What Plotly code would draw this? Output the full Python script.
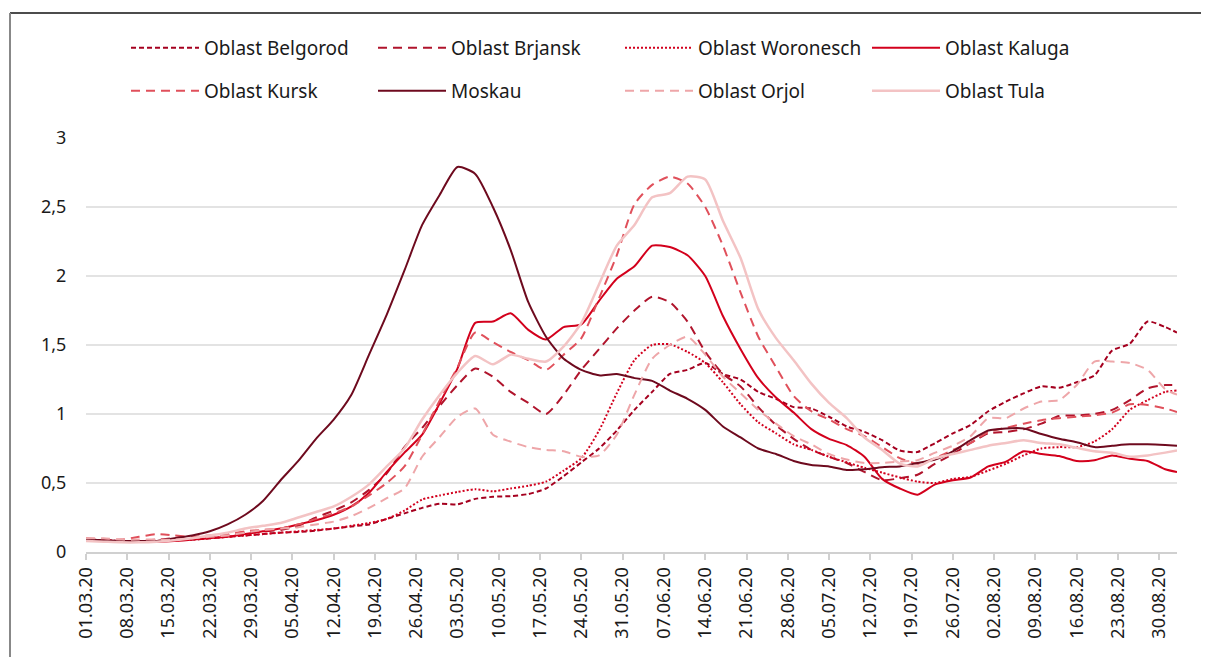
import pandas as pd
import plotly.graph_objects as go

# Day offsets from 01.03.2020 at which values were read
day_offsets = [0, 3, 6, 9, 12, 15, 18, 21, 24, 27, 30, 33, 36, 39, 42, 45, 48, 51, 54, 57,
               60, 63, 66, 69, 72, 75, 78, 81, 84, 87, 90, 93, 96, 99, 102, 105, 108, 111,
               114, 117, 120, 123, 126, 129, 132, 135, 138, 141, 144, 147, 150, 153, 156,
               159, 162, 165, 168, 171, 174, 177, 180, 183, 185]

belgorod = [0.09, 0.085, 0.08, 0.08, 0.08, 0.085, 0.09, 0.10, 0.11, 0.12, 0.13, 0.14, 0.145, 0.155,
            0.17, 0.185, 0.20, 0.24, 0.28, 0.32, 0.35, 0.345, 0.385, 0.40, 0.405, 0.42, 0.46,
            0.55, 0.65, 0.75, 0.88, 1.03, 1.16, 1.29, 1.32, 1.37, 1.29, 1.25, 1.16, 1.11, 1.05,
            1.04, 0.98, 0.91, 0.87, 0.81, 0.735, 0.725, 0.79, 0.86, 0.92, 1.02, 1.09, 1.15,
            1.20, 1.19, 1.23, 1.28, 1.46, 1.51, 1.67, 1.63, 1.59]
brjansk = [0.09, 0.09, 0.085, 0.08, 0.09, 0.10, 0.11, 0.11, 0.12, 0.14, 0.15, 0.16, 0.19, 0.25,
           0.30, 0.36, 0.45, 0.57, 0.76, 0.90, 1.06, 1.21, 1.33, 1.27, 1.16, 1.08, 1.00, 1.14,
           1.32, 1.47, 1.62, 1.75, 1.85, 1.81, 1.67, 1.45, 1.29, 1.20, 1.05, 0.92, 0.82, 0.74,
           0.69, 0.645, 0.58, 0.52, 0.535, 0.56, 0.64, 0.71, 0.79, 0.86, 0.87, 0.89, 0.93,
           0.985, 0.99, 1.00, 1.03, 1.10, 1.186, 1.21, 1.21]
woronesch = [0.09, 0.085, 0.08, 0.08, 0.08, 0.085, 0.09, 0.10, 0.11, 0.12, 0.13, 0.14, 0.15, 0.16,
             0.17, 0.19, 0.21, 0.24, 0.30, 0.38, 0.41, 0.435, 0.455, 0.44, 0.46, 0.48, 0.51,
             0.59, 0.68, 0.88, 1.15, 1.39, 1.50, 1.505, 1.45, 1.37, 1.23, 1.07, 0.94, 0.86,
             0.78, 0.74, 0.69, 0.65, 0.61, 0.575, 0.54, 0.51, 0.50, 0.53, 0.545, 0.59, 0.64,
             0.70, 0.75, 0.76, 0.76, 0.80, 0.89, 1.03, 1.10, 1.16, 1.17]
kaluga = [0.09, 0.08, 0.08, 0.075, 0.075, 0.08, 0.09, 0.10, 0.11, 0.13, 0.15, 0.17, 0.20, 0.23,
          0.27, 0.33, 0.43, 0.58, 0.72, 0.85, 1.08, 1.33, 1.66, 1.67, 1.73, 1.61, 1.54, 1.63,
          1.65, 1.82, 1.98, 2.07, 2.22, 2.21, 2.15, 2.00, 1.71, 1.47, 1.26, 1.12, 1.01, 0.89,
          0.82, 0.775, 0.69, 0.53, 0.46, 0.415, 0.49, 0.52, 0.54, 0.62, 0.655, 0.73, 0.71,
          0.695, 0.66, 0.665, 0.70, 0.675, 0.66, 0.60, 0.58]
kursk = [0.10, 0.09, 0.09, 0.11, 0.13, 0.12, 0.11, 0.12, 0.13, 0.15, 0.16, 0.17, 0.20, 0.24,
         0.28, 0.33, 0.41, 0.50, 0.62, 0.85, 1.10, 1.34, 1.59, 1.52, 1.45, 1.39, 1.32, 1.43,
         1.55, 1.84, 2.15, 2.52, 2.66, 2.72, 2.67, 2.50, 2.22, 1.88, 1.56, 1.34, 1.13, 1.02,
         0.96, 0.89, 0.84, 0.76, 0.68, 0.64, 0.68, 0.74, 0.79, 0.87, 0.90, 0.93, 0.955,
         0.97, 0.98, 0.99, 1.01, 1.07, 1.065, 1.04, 1.015]
moskau = [0.09, 0.085, 0.08, 0.08, 0.08, 0.10, 0.12, 0.15, 0.20, 0.27, 0.37, 0.52, 0.66, 0.82,
          0.96, 1.14, 1.43, 1.72, 2.04, 2.37, 2.59, 2.79, 2.74, 2.50, 2.19, 1.81, 1.56, 1.40,
          1.32, 1.28, 1.29, 1.26, 1.24, 1.17, 1.11, 1.03, 0.91, 0.83, 0.75, 0.71, 0.66, 0.63,
          0.62, 0.595, 0.60, 0.615, 0.62, 0.645, 0.67, 0.73, 0.81, 0.88, 0.895, 0.895, 0.855,
          0.82, 0.795, 0.76, 0.77, 0.78, 0.78, 0.775, 0.77]
orjol = [0.10, 0.10, 0.09, 0.09, 0.09, 0.09, 0.10, 0.11, 0.12, 0.14, 0.16, 0.17, 0.18, 0.20,
         0.22, 0.26, 0.32, 0.39, 0.46, 0.69, 0.835, 0.98, 1.04, 0.85, 0.80, 0.76, 0.74, 0.73,
         0.69, 0.70, 0.85, 1.14, 1.40, 1.50, 1.56, 1.43, 1.27, 1.15, 1.03, 0.93, 0.84, 0.78,
         0.71, 0.67, 0.645, 0.645, 0.655, 0.665, 0.72, 0.77, 0.84, 0.97, 0.97, 1.04, 1.09,
         1.10, 1.21, 1.38, 1.38, 1.37, 1.32, 1.18, 1.14]
tula = [0.08, 0.075, 0.07, 0.07, 0.075, 0.085, 0.10, 0.12, 0.14, 0.17, 0.19, 0.21, 0.25, 0.29,
        0.33, 0.40, 0.49, 0.62, 0.75, 0.96, 1.14, 1.30, 1.42, 1.36, 1.43, 1.40, 1.38, 1.49,
        1.66, 1.94, 2.22, 2.37, 2.57, 2.60, 2.72, 2.70, 2.40, 2.13, 1.76, 1.55, 1.39, 1.22,
        1.08, 0.97, 0.83, 0.74, 0.64, 0.62, 0.68, 0.71, 0.74, 0.77, 0.79, 0.81, 0.79, 0.78,
        0.755, 0.73, 0.72, 0.69, 0.70, 0.72, 0.735]

series_names = ["Oblast Belgorod", "Oblast Brjansk", "Oblast Woronesch", "Oblast Kaluga",
                "Oblast Kursk", "Moskau", "Oblast Orjol", "Oblast Tula"]
tick_dates = pd.date_range("2020-03-01", "2020-08-30", freq="7D")

dates = pd.Timestamp("2020-03-01") + pd.to_timedelta(day_offsets, unit="D")
values = [belgorod, brjansk, woronesch, kaluga, kursk, moskau, orjol, tula]
styles = [
    dict(color="#A5001F", dash="5px,3px", width=2),
    dict(color="#B0142C", dash="9px,6px", width=2),
    dict(color="#D2001E", dash="2px,2px", width=2),
    dict(color="#D3001C", dash="solid", width=2),
    dict(color="#E0505B", dash="9px,6px", width=2),
    dict(color="#6E0A1E", dash="solid", width=2),
    dict(color="#EEA6A9", dash="9px,6px", width=2),
    dict(color="#F3C3C4", dash="solid", width=2.5),
]

fig = go.Figure()
for i, (name, vals, st) in enumerate(zip(series_names, values, styles)):
    fig.add_trace(go.Scatter(
        x=dates, y=vals, mode="lines", name=name,
        line=dict(shape="spline", smoothing=0.6, **st),
        legend="legend" if i < 4 else "legend2",
    ))

# page has an 8px body margin; convert page pixels to figure pixels
OFF = 8
W, H = 1209 - OFF, 657 - OFF
L, R, T, B = 86 - OFF, 1177 - OFF, 138 - OFF, 552 - OFF
def px(x):
    return (x - OFF - L) / (R - L)
def py(y):
    return (B - (y - OFF)) / (B - T)

tfont = dict(family="Noto Sans, Open Sans, sans-serif", size=18, color="#1a1a1a")
lfont = dict(family="Noto Sans, Open Sans, sans-serif", size=19, color="#1a1a1a")
legend_common = dict(orientation="h", font=lfont, bgcolor="rgba(0,0,0,0)",
                     entrywidth=164, entrywidthmode="pixels", itemwidth=68,
                     xanchor="left", yanchor="middle", traceorder="normal",
                     itemclick=False, itemdoubleclick=False)

fig.update_layout(
    width=W, height=H,
    margin=dict(l=L, r=W - R, t=T, b=H - B, autoexpand=False),
    paper_bgcolor="white", plot_bgcolor="white",
    separators=",.",
    font=tfont,
    showlegend=True,
    legend=dict(x=px(126), y=py(48), **legend_common),
    legend2=dict(x=px(126), y=py(91), **legend_common),
    xaxis=dict(
        type="date",
        range=[pd.Timestamp("2020-03-01"), pd.Timestamp("2020-09-02")],
        tickvals=tick_dates, tickformat="%d.%m.%y", tickangle=-90,
        ticks="outside", ticklen=6, tickcolor="#d0d0d0", tickwidth=1.5,
        showline=True, linecolor="#d0d0d0", linewidth=2,
        showgrid=False, zeroline=False, automargin=False,
        tickfont=tfont,
    ),
    yaxis=dict(
        range=[0, 3], tickvals=[0, 0.5, 1, 1.5, 2, 2.5, 3],
        showgrid=True, gridcolor="#e3e3e3", gridwidth=1.5,
        zeroline=False, showline=False, automargin=False,
        ticks="outside", ticklen=15, tickcolor="rgba(0,0,0,0)",
        tickfont=tfont,
    ),
    shapes=[
        dict(type="line", xref="paper", yref="paper", x0=px(10), x1=px(1208),
             y0=py(13), y1=py(13), line=dict(color="#111111", width=1.5)),
        dict(type="line", xref="paper", yref="paper", x0=px(10), x1=px(10),
             y0=py(13), y1=py(657), line=dict(color="#888888", width=2)),
    ],
)

fig.write_html(
    "out.html",
    config={"displayModeBar": False},
    post_script="document.documentElement.style.overflow='hidden';document.body.style.overflow='hidden';",
)
